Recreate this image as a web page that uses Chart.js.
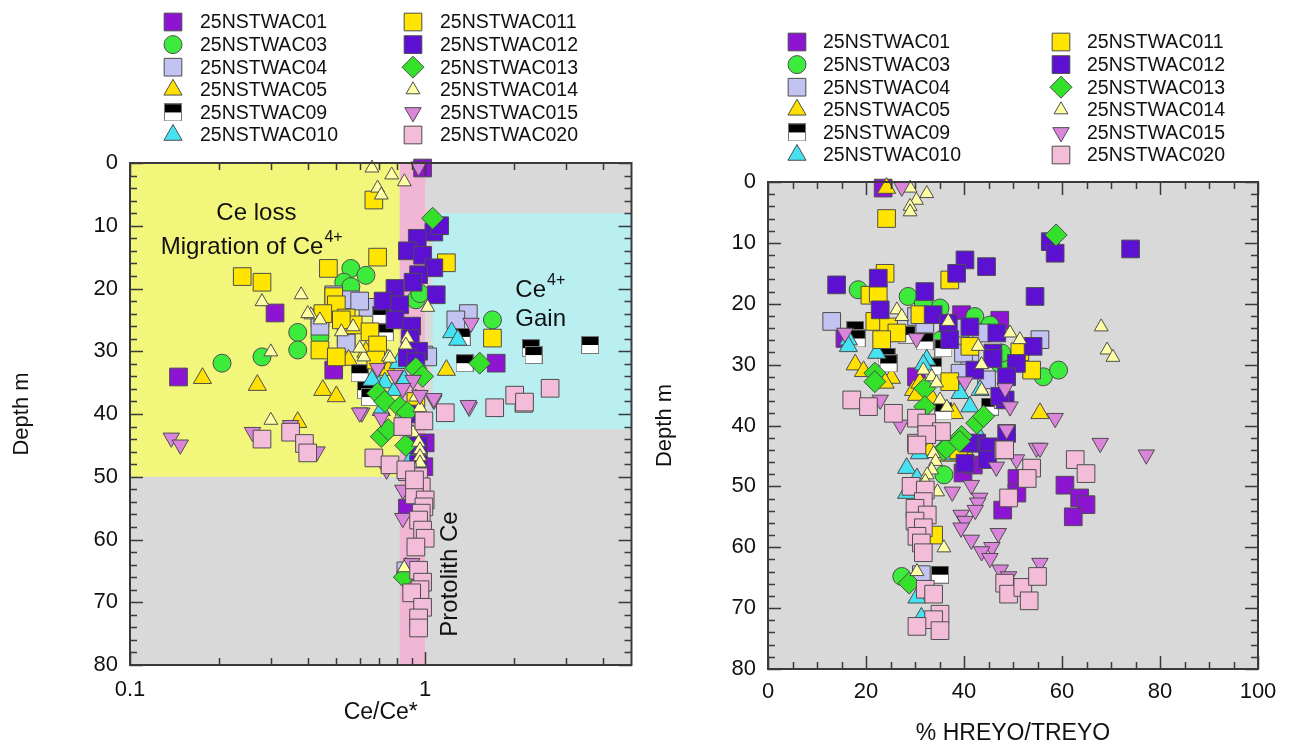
<!DOCTYPE html>
<html>
<head>
<meta charset="utf-8">
<script src="https://cdn.jsdelivr.net/npm/chart.js@4.4.1/dist/chart.umd.min.js"></script>
<style>
  html, body { margin: 0; padding: 0; background: #ffffff; }
  #wrap { position: relative; width: 1290px; height: 749px; }
  canvas { position: absolute; top: 0; }
</style>
</head>
<body>
<div id="wrap">
  <canvas id="cePlot" width="645" height="749" style="left:0"></canvas>
  <canvas id="hreyoPlot" width="645" height="749" style="left:645px"></canvas>
</div>
<script>
// sample names, in legend order
const seriesNames = [
  `25NSTWAC01`, `25NSTWAC03`, `25NSTWAC04`, `25NSTWAC05`, `25NSTWAC09`, `25NSTWAC010`,
  `25NSTWAC011`, `25NSTWAC012`, `25NSTWAC013`, `25NSTWAC014`, `25NSTWAC015`, `25NSTWAC020`
];

// left panel: [Ce/Ce*, depth m]
const ce01 = [[0.98, 0.8], [0.31, 23.9], [0.146, 34.1], [0.49, 33], [1.74, 31.9], [1.0, 44.6], [0.99, 48.4], [0.87, 55]];
const ce03 = [[0.56, 16.8], [0.53, 19], [0.63, 17.9], [0.56, 19.7], [0.93, 21.8], [0.96, 20.8], [0.37, 27], [0.37, 29.8], [0.28, 30.9], [0.205, 31.9], [0.44, 27.7], [1.69, 25]];
const ce04 = [[0.49, 21], [0.56, 21.8], [0.64, 23], [0.44, 24.7], [0.54, 27.7], [0.44, 26], [0.99, 30.6], [1.4, 24], [1.27, 25], [1.02, 30.9], [0.54, 28.7], [0.6, 22], [0.86, 65]];
const ce05 = [[0.176, 34.3], [0.27, 35.4], [0.45, 36.2], [0.5, 37.2], [0.55, 31.4], [0.63, 30.1], [1.18, 33], [0.37, 41.3], [0.75, 33], [0.8, 36]];
const ce09 = [[1.36, 31.9], [1.33, 27.7], [2.28, 29.5], [2.33, 30.6], [3.62, 29], [0.6, 33.5], [0.63, 36.2], [0.65, 37.3], [0.71, 25.5], [0.73, 27], [0.71, 24.2], [0.85, 40]];
const ce010 = [[1.23, 27], [1.29, 28.2], [0.68, 34.6], [0.73, 35], [0.79, 36.2], [0.71, 39.4], [0.85, 34.6], [0.66, 34.6], [0.81, 31.9], [0.86, 64.5], [0.88, 44], [0.9, 47]];
const ce011 = [[0.67, 5.9], [0.69, 15], [0.47, 16.8], [0.24, 18.1], [0.28, 19], [0.49, 21.3], [0.5, 22.6], [0.45, 24], [0.54, 24.7], [0.57, 25.8], [0.65, 26.9], [0.69, 29], [0.44, 29.8], [0.5, 30.9], [0.68, 31.4], [1.18, 15.9], [1.69, 27.9], [0.52, 25], [0.93, 38]];
const ce012 = [[1.07, 11], [0.94, 12], [1.12, 10], [0.87, 14], [0.98, 14.7], [1.07, 16.7], [0.95, 17.8], [0.91, 19], [1.09, 21], [0.79, 20], [0.72, 22], [0.82, 22.6], [0.79, 25], [0.9, 26], [0.89, 28], [0.95, 30], [0.87, 31], [0.93, 31.7], [0.92, 40], [0.95, 45], [0.95, 48]];
const ce013 = [[1.06, 8.8], [1.53, 31.9], [0.93, 32.7], [0.98, 34], [0.69, 36.7], [0.73, 38], [0.82, 38.9], [0.87, 39.7], [0.71, 43.6], [0.75, 42.5], [0.86, 45], [0.85, 66]];
const ce014 = [[0.66, 0.8], [0.77, 1.9], [0.85, 3], [0.69, 4], [0.71, 5.1], [0.38, 21], [0.28, 22.1], [0.41, 24.2], [0.44, 25], [0.52, 26.9], [0.57, 26.1], [0.3, 30.1], [1.02, 23], [0.87, 27.9], [0.86, 29], [0.75, 30.9], [0.62, 30.9], [0.4, 24], [0.6, 29.5], [0.76, 31.1], [0.93, 37.3], [0.96, 39], [0.91, 43], [0.95, 44.5], [0.96, 45.7], [0.96, 46.8], [0.96, 47.8], [0.3, 41], [0.85, 64.5]];
const ce015 = [[0.138, 43.8], [0.148, 44.9], [0.26, 42.9], [0.35, 41.8], [0.43, 46], [0.61, 39.8], [1.41, 38.9], [0.74, 48.9], [0.84, 52.1], [0.84, 56.6], [0.9, 63.8], [0.69, 32.7], [0.79, 33.8], [0.91, 34.6], [0.84, 35.9], [0.96, 37], [1.07, 37.8], [0.6, 39.8], [0.71, 40.6], [0.95, 0.6], [1.43, 25.5], [1.07, 37.5], [1.4, 38.6]];
const ce020 = [[0.28, 44], [0.35, 42.9], [0.39, 44.7], [0.4, 46.2], [0.67, 47], [0.76, 48.1], [0.84, 42], [0.99, 41.1], [1.17, 39.8], [1.72, 39], [2.16, 38.3], [2.01, 37], [2.17, 38.1], [2.65, 35.9], [0.87, 49.2], [0.95, 50], [0.97, 51.6], [0.92, 52.9], [1.0, 53.7], [0.99, 54.8], [0.97, 55.8], [0.95, 56.9], [0.98, 58.5], [1.0, 59.8], [0.93, 61.2], [0.95, 64.9], [0.98, 66.8], [0.96, 68], [0.9, 68.5], [0.98, 70.8], [0.95, 72.5], [0.95, 74.1], [0.86, 48.9], [0.92, 50.5]];

// right panel: [% HREYO/TREYO, depth m]
const hr01 = [[23.5, 1], [15.7, 25.7], [39.5, 21.8], [47.3, 22.7], [30.3, 32], [39.8, 47.8], [41.9, 46.5], [47.9, 53.9], [50.8, 48.7], [50.8, 51.1], [60.6, 49.8], [63.6, 51.9], [64.9, 53], [62.3, 55]];
const hr03 = [[18.4, 17.7], [28.6, 18.8], [35.1, 20.7], [42.2, 22.1], [45.3, 23.5], [47.3, 29.8], [56.2, 32], [59.3, 30.9], [35.4, 25.9], [47.7, 28.1], [31.7, 19.9], [35.9, 48.1], [27.3, 64.8]];
const hr04 = [[13, 22.9], [30.3, 22.1], [32, 23.8], [39.2, 24], [41.2, 29.8], [43.6, 24.8], [39.9, 28.1], [55.5, 25.9], [44.6, 32.5], [39.2, 31.4], [31.3, 64.5]];
const hr05 = [[24.2, 1], [17.8, 30], [19.5, 31.1], [25.2, 32.2], [23.9, 33], [29.7, 34.2], [30.3, 35], [33.4, 35.5], [55.5, 38], [40.5, 44.6], [33, 44], [37, 45], [31, 33], [38, 38]];
const hr09 = [[17.8, 24.3], [18.1, 25.7], [24.2, 28.7], [24.6, 29.8], [28.3, 25.1], [32, 26.2], [35.8, 27.3], [33.7, 30.3], [35.8, 37.7], [45.3, 36.9], [48, 35.8], [35.1, 64.5]];
const hr010 = [[16.4, 25.9], [16.4, 27], [22.2, 28.1], [32.4, 29.2], [31.7, 30], [39.2, 34.7], [41.2, 36.9], [43.3, 34.2], [43.3, 42.1], [30.9, 44.6], [28.3, 47], [28.3, 51.1], [30.4, 48.7], [37.6, 44.8], [30.4, 68.3], [31.3, 71.6]];
const hr011 = [[24.2, 6], [23.9, 15], [37.1, 16.1], [20.8, 18.6], [22.5, 18.3], [31, 21.8], [21.8, 22.9], [24.6, 23.8], [26.3, 24.8], [23.2, 25.9], [41.2, 27], [51.4, 27.9], [53.8, 30.9], [37.1, 32.8], [33.8, 58], [38.9, 44]];
const hr012 = [[14, 16.9], [22.5, 15.8], [32, 18], [40.2, 12.8], [38.5, 15], [44.6, 13.9], [54.5, 18.8], [22.9, 21], [33.7, 21.8], [36.8, 23.2], [41.2, 23.8], [46.7, 24.8], [37.1, 25.9], [54.1, 27], [45.9, 28.1], [45.9, 29], [50.7, 29.8], [42.2, 30.9], [48.7, 32], [57.6, 9.8], [58.6, 11.7], [74, 11], [42.6, 42.9], [45, 43.5], [48.7, 41.3], [48.4, 35.8], [47.3, 35.2], [40.2, 46.2], [41, 42.9], [44.8, 45.6]];
const hr013 = [[58.8, 8.7], [21.8, 31.4], [21.8, 32.8], [32, 33.9], [32, 36.9], [42.6, 39.6], [39.5, 41.8], [35.8, 44], [44, 38.5], [36.4, 43.7], [39.1, 42.6], [28.8, 65.9]];
const hr014 = [[29, 1], [32.4, 1.9], [30.3, 3], [29, 4], [29, 4.9], [26.3, 21], [27.3, 22.1], [36.8, 22.9], [42.9, 27], [49.4, 24.8], [51.4, 25.9], [31.7, 30.9], [33.4, 32], [34.4, 33], [35.1, 35.8], [36.5, 37], [43.6, 30], [43.6, 34.2], [68, 23.8], [69.2, 27.6], [70.4, 28.8], [33.8, 44.6], [34.2, 45.9], [33.4, 47.3], [32.5, 48.1], [32.1, 49.2], [34.6, 50.9], [35.9, 60.1], [30.4, 64]];
const hr015 = [[27.3, 0.8], [15.7, 24.8], [22.9, 35.8], [27, 39.9], [30.3, 25.7], [40.2, 32.8], [48.4, 33.9], [49.4, 36.9], [48.7, 40.7], [54.8, 43.7], [58.6, 38.8], [55.5, 43.7], [67.8, 42.9], [77.2, 44.8], [46.6, 46.8], [50.7, 45.6], [37.6, 50.9], [41.5, 49.8], [43.2, 51.9], [42.8, 52.7], [42.3, 53.9], [39.4, 54.7], [40.2, 55.7], [39.4, 56.8], [47, 57.7], [41.5, 58.8], [45.7, 60], [43.6, 60.7], [45.3, 61.8], [55.5, 62.6], [47.4, 63.7], [49.1, 64.8]];
const hr020 = [[17.1, 35.8], [20.5, 36.9], [25.6, 38], [30.3, 38.8], [30.3, 42.9], [32.4, 39.6], [35.4, 41], [32.4, 41.5], [48, 44], [30.4, 43.2], [48.3, 44], [53.8, 47], [52.9, 48.7], [49.1, 51.9], [62.7, 45.6], [64.9, 47.9], [29.2, 50], [32.1, 50.6], [31.7, 52.5], [30, 53.6], [32.5, 54.7], [30, 55.7], [31.7, 56.8], [30.4, 58.2], [31.3, 59.3], [31.7, 60.9], [32.1, 66.9], [33.8, 67.7], [35.1, 71], [33.8, 71.9], [30.4, 73], [35.1, 73.7], [48.3, 65.9], [49.1, 67.7], [52, 66.6], [55, 64.8], [53.3, 68.8]];

const ceValues = [ce01, ce03, ce04, ce05, ce09, ce010, ce011, ce012, ce013, ce014, ce015, ce020];
const hreyoValues = [hr01, hr03, hr04, hr05, hr09, hr010, hr011, hr012, hr013, hr014, hr015, hr020];

// axes
const ceTickValues = [0.1, 1];
const ceTickLabels = [`0.1`, `1`];
const ceMinorTicks = [0.2, 0.3, 0.4, 0.5, 0.6, 0.7, 0.8, 0.9, 2, 3, 4];
const hreyoTickValues = [0, 20, 40, 60, 80, 100];
const hreyoMinorTicks = [5, 10, 15, 25, 30, 35, 45, 50, 55, 65, 70, 75, 85, 90, 95];
const depthTickValues = [0, 10, 20, 30, 40, 50, 60, 70, 80];
const depthMinorTicks = [2, 4, 6, 8, 12, 14, 16, 18, 22, 24, 26, 28, 32, 34, 36, 38, 42, 44, 46, 48, 52, 54, 56, 58, 62, 64, 66, 68, 72, 74, 76, 78];

// shaded fields of the Ce/Ce* panel
const ceLossField = {x0: 0.1, x1: 0.82, y0: 0, y1: 50};
const protolithField = {x0: 0.82, x1: 1.0, y0: 0, y1: 80};
const ceGainField = {x0: 1.06, x1: 5, y0: 8, y1: 42.4};

const FONT = `"Liberation Sans", Arial, Helvetica, sans-serif`;
Chart.defaults.font.family = FONT;
Chart.defaults.color = `#111111`;

const halfSquare = (() => {
  const c = document.createElement(`canvas`);
  c.width = 18;
  c.height = 18;
  const g = c.getContext(`2d`);
  g.fillStyle = `#ffffff`;
  g.fillRect(0, 0, 18, 18);
  g.fillStyle = `#000000`;
  g.fillRect(0, 0, 18, 9);
  g.strokeStyle = `#777777`;
  g.lineWidth = 1;
  g.strokeRect(0.5, 0.5, 17, 17);
  return c;
})();

const markers = [
  {pointStyle: `rect`, radius: 12.5, color: `#8c14d2`},
  {pointStyle: `circle`, radius: 9, color: `#3deb3d`},
  {pointStyle: `rect`, radius: 12.5, color: `#c3c3f2`},
  {pointStyle: `triangle`, radius: 10.5, color: `#ffe000`},
  {pointStyle: halfSquare, radius: 9, color: `#000000`},
  {pointStyle: `triangle`, radius: 10.5, color: `#45e2f2`},
  {pointStyle: `rect`, radius: 12.5, color: `#ffe500`},
  {pointStyle: `rect`, radius: 12.5, color: `#5c10d2`},
  {pointStyle: `rectRot`, radius: 11, color: `#35e02a`},
  {pointStyle: `triangle`, radius: 8, color: `#ffffa6`},
  {pointStyle: `triangle`, radius: 9.5, color: `#da85da`, rotation: 180},
  {pointStyle: `rect`, radius: 12.5, color: `#f3bdd9`},
];

const buildDatasets = (values) => values.map((points, i) => ({
  label: seriesNames[i],
  data: points.map(([x, y]) => ({x, y})),
  pointStyle: markers[i].pointStyle,
  pointRadius: markers[i].radius,
  pointRotation: markers[i].rotation || 0,
  backgroundColor: markers[i].color,
  borderColor: `#4d4d4d`,
  borderWidth: 1,
  order: seriesNames.length - i,
  clip: false,
}));

const drawLegend = (chart, pos) => {
  const ctx = chart.ctx;
  ctx.save();
  ctx.font = `19.5px ${FONT}`;
  ctx.textBaseline = `middle`;
  seriesNames.forEach((name, i) => {
    const col = i < 6 ? 0 : 1;
    const y = pos.top + (i % 6) * pos.rowGap;
    const m = markers[i];
    ctx.fillStyle = m.color;
    ctx.strokeStyle = `#4d4d4d`;
    ctx.lineWidth = 1;
    Chart.helpers.drawPoint(ctx, {
      pointStyle: m.pointStyle,
      rotation: m.rotation || 0,
      radius: m.radius,
      borderWidth: 1,
    }, pos.markerX[col], y);
    ctx.fillStyle = `#111111`;
    ctx.fillText(name, pos.textX[col], y + 1);
  });
  ctx.restore();
};

const drawFrame = (chart, xMajor, xMinor, yMajor, yMinor) => {
  const {ctx, chartArea: a} = chart;
  const {x, y} = chart.scales;
  ctx.save();
  ctx.strokeStyle = `#3a3a3a`;
  ctx.lineWidth = 1.5;
  ctx.beginPath();
  const xTick = (v, len) => {
    const px = Math.round(x.getPixelForValue(v)) + 0.5;
    ctx.moveTo(px, a.bottom);
    ctx.lineTo(px, a.bottom - len);
    ctx.moveTo(px, a.top);
    ctx.lineTo(px, a.top + len);
  };
  const yTick = (v, len) => {
    const py = Math.round(y.getPixelForValue(v)) + 0.5;
    ctx.moveTo(a.left, py);
    ctx.lineTo(a.left + len, py);
    ctx.moveTo(a.right, py);
    ctx.lineTo(a.right - len, py);
  };
  xMajor.forEach((v) => xTick(v, 13));
  xMinor.forEach((v) => xTick(v, 7));
  yMajor.forEach((v) => yTick(v, 13));
  yMinor.forEach((v) => yTick(v, 7));
  ctx.stroke();
  ctx.lineWidth = 2;
  ctx.strokeRect(a.left, a.top, a.width, a.height);
  ctx.restore();
};

const fillPlotBackground = (chart) => {
  const {ctx, chartArea: a} = chart;
  ctx.save();
  ctx.fillStyle = `#d9d9d9`;
  ctx.fillRect(a.left, a.top, a.width, a.height);
  ctx.restore();
};

const fillField = (chart, f, color) => {
  const {ctx} = chart;
  const {x, y} = chart.scales;
  const l = x.getPixelForValue(f.x0);
  const r = x.getPixelForValue(f.x1);
  const t = y.getPixelForValue(f.y0);
  const b = y.getPixelForValue(f.y1);
  ctx.fillStyle = color;
  ctx.fillRect(l, t, r - l, b - t);
};

// text with a raised "4+" after it
const drawSupText = (ctx, text, sup, px, py) => {
  ctx.font = `24px ${FONT}`;
  ctx.fillText(text, px, py);
  const w = ctx.measureText(text).width;
  ctx.font = `16px ${FONT}`;
  ctx.fillText(sup, px + w + 1, py - 12);
};

const cePlugin = {
  id: `ceFields`,
  beforeDraw(chart) {
    fillPlotBackground(chart);
    const {ctx} = chart;
    ctx.save();
    fillField(chart, ceLossField, `#f2f77c`);
    fillField(chart, protolithField, `#f0b6d4`);
    fillField(chart, ceGainField, `#b9eff1`);
    ctx.restore();
  },
  beforeDatasetsDraw(chart) {
    const {ctx} = chart;
    const {x, y} = chart.scales;
    ctx.save();
    ctx.fillStyle = `#111111`;
    ctx.textBaseline = `alphabetic`;
    ctx.font = `24px ${FONT}`;
    ctx.textAlign = `center`;
    ctx.fillText(`Ce loss`, x.getPixelForValue(0.268), y.getPixelForValue(9.1));
    ctx.textAlign = `left`;
    drawSupText(ctx, `Migration of Ce`, `4+`, x.getPixelForValue(0.127), y.getPixelForValue(14.5));
    drawSupText(ctx, `Ce`, `4+`, x.getPixelForValue(2.02), y.getPixelForValue(21.4));
    ctx.font = `24px ${FONT}`;
    ctx.fillText(`Gain`, x.getPixelForValue(2.02), y.getPixelForValue(26));
    ctx.translate(x.getPixelForValue(1.22), y.getPixelForValue(65.5));
    ctx.rotate(-Math.PI / 2);
    ctx.textAlign = `center`;
    ctx.textBaseline = `middle`;
    ctx.fillText(`Protolith Ce`, 0, 0);
    ctx.restore();
  },
  afterDraw(chart) {
    drawFrame(chart, ceTickValues, ceMinorTicks, depthTickValues, depthMinorTicks);
    drawLegend(chart, {top: 22, rowGap: 22.6, markerX: [173, 413], textX: [200, 440]});
  },
};

const hreyoPlugin = {
  id: `hreyoFrame`,
  beforeDraw(chart) {
    fillPlotBackground(chart);
  },
  afterDraw(chart) {
    drawFrame(chart, hreyoTickValues, hreyoMinorTicks, depthTickValues, depthMinorTicks);
    drawLegend(chart, {top: 42, rowGap: 22.6, markerX: [152, 416], textX: [178, 442]});
  },
};

const depthAxis = (width, titlePadding) => ({
  type: `linear`,
  reverse: true,
  min: 0,
  max: 80,
  afterBuildTicks: (s) => {
    s.ticks = depthTickValues.map((v) => ({value: v}));
  },
  afterFit: (s) => {
    s.width = width;
  },
  ticks: {
    font: {size: 22},
    color: `#111111`,
    padding: 12,
    callback: (v) => `${v}`,
  },
  grid: {display: false, drawTicks: false},
  border: {display: false},
  title: {
    display: true,
    text: `Depth m`,
    font: {size: 22},
    color: `#111111`,
    padding: titlePadding,
  },
});

const commonOptions = {
  responsive: false,
  animation: false,
  devicePixelRatio: 1,
  events: [],
  plugins: {
    legend: {display: false},
    tooltip: {enabled: false},
  },
};

new Chart(document.getElementById(`cePlot`), {
  type: `scatter`,
  data: {datasets: buildDatasets(ceValues)},
  options: {
    ...commonOptions,
    layout: {padding: {left: 0, right: 9, top: 163, bottom: 0}},
    scales: {
      x: {
        type: `logarithmic`,
        min: 0.1,
        max: 5,
        afterBuildTicks: (s) => {
          s.ticks = ceTickValues.map((v) => ({value: v}));
        },
        afterFit: (s) => {
          s.height = 84;
        },
        ticks: {
          font: {size: 22},
          color: `#111111`,
          padding: 12,
          maxRotation: 0,
          autoSkip: false,
          callback: (v) => ceTickLabels[ceTickValues.indexOf(v)] || ``,
        },
        grid: {display: false, drawTicks: false},
        border: {display: false},
        title: {
          display: true,
          text: `Ce/Ce*`,
          font: {size: 23},
          color: `#111111`,
          padding: {top: 0, bottom: 23},
        },
      },
      y: depthAxis(130, 9),
    },
  },
  plugins: [cePlugin],
});

new Chart(document.getElementById(`hreyoPlot`), {
  type: `scatter`,
  data: {datasets: buildDatasets(hreyoValues)},
  options: {
    ...commonOptions,
    layout: {padding: {left: 0, right: 32, top: 182, bottom: 0}},
    scales: {
      x: {
        type: `linear`,
        min: 0,
        max: 100,
        afterBuildTicks: (s) => {
          s.ticks = hreyoTickValues.map((v) => ({value: v}));
        },
        afterFit: (s) => {
          s.height = 80;
        },
        ticks: {
          font: {size: 22},
          color: `#111111`,
          padding: 10,
          maxRotation: 0,
          autoSkip: false,
          callback: (v) => `${v}`,
        },
        grid: {display: false, drawTicks: false},
        border: {display: false},
        title: {
          display: true,
          text: `% HREYO/TREYO`,
          font: {size: 23},
          color: `#111111`,
          padding: {top: 0, bottom: 2},
        },
      },
      y: depthAxis(123, 7),
    },
  },
  plugins: [hreyoPlugin],
});
</script>
</body>
</html>
